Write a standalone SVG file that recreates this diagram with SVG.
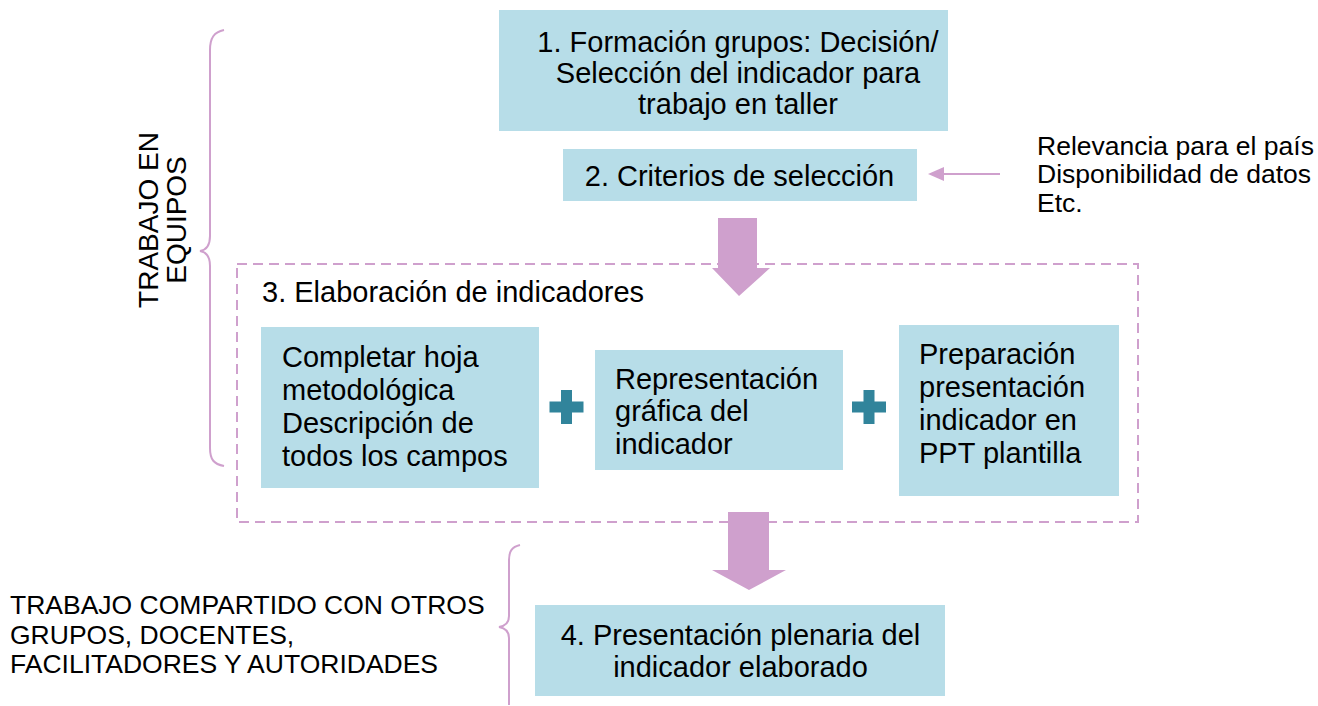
<svg xmlns="http://www.w3.org/2000/svg" width="1318" height="706" viewBox="0 0 1318 706">
<defs>
<style>
.box{fill:#b7dde8;stroke:none}
.t{font-family:"Liberation Sans",Arial,sans-serif;font-size:29px;fill:#000}
.s{font-family:"Liberation Sans",Arial,sans-serif;font-size:26.5px;fill:#000}
.r{font-family:"Liberation Sans",Arial,sans-serif;font-size:28px;fill:#000}
.pk{fill:#cfa0cd}
.brace{fill:none;stroke:#cfa0cd;stroke-width:2}
.plus{fill:#31849b}
</style>
</defs>
<rect width="1318" height="706" fill="#fff"/>
<g id="brace-equipos">
<path class="brace" d="M224,30 C214,32 210,38 210,50 L210,236 C210,246 206,250 200,251 C206,252 210,256 210,266 L210,448 C210,460 214,464 224,466"/>
<text class="r" transform="translate(158,220) rotate(-90)" text-anchor="middle">TRABAJO EN</text>
<text class="r" transform="translate(186,220) rotate(-90)" text-anchor="middle">EQUIPOS</text>
</g>
<g id="dashed-group">
<rect x="237" y="264" width="901" height="258" fill="none" stroke="#cfa0cd" stroke-width="2" stroke-dasharray="10,6"/>
<text class="t" x="262" y="302">3. Elaboración de indicadores</text>
</g>
<g id="connectors">
<line x1="1000" y1="174" x2="940" y2="174" stroke="#cfa0cd" stroke-width="2"/>
<polygon class="pk" points="928,174 944,167 944,181"/>
<polygon class="pk" points="718,218 757,218 757,268 770,268 739,296 712,268 718,268"/>
<polygon class="pk" points="728,512 769,512 769,570 786,570 749,590 712,570 728,570"/>
</g>
<g id="node1">
<rect class="box" x="499" y="10" width="449" height="121"/>
<text class="t" x="738" y="52" text-anchor="middle">1. Formación grupos: Decisión/</text>
<text class="t" x="738" y="83" text-anchor="middle">Selección del indicador para</text>
<text class="t" x="738" y="114" text-anchor="middle">trabajo en taller</text>
</g>
<g id="node2">
<rect class="box" x="563" y="149" width="354" height="52"/>
<text class="t" x="739.5" y="186" text-anchor="middle">2. Criterios de selección</text>
</g>
<g id="criteria">
<text class="s" x="1037" y="155">Relevancia para el país</text>
<text class="s" x="1037" y="183">Disponibilidad de datos</text>
<text class="s" x="1037" y="212">Etc.</text>
</g>
<g id="nodeA">
<rect class="box" x="261" y="327" width="278" height="161"/>
<text class="t" x="282" y="367">Completar hoja</text>
<text class="t" x="282" y="400">metodológica</text>
<text class="t" x="282" y="433">Descripción de</text>
<text class="t" x="282" y="466">todos los campos</text>
</g>
<g id="plus1">
<path class="plus" d="M561,390 h11 v11.5 h11.5 v11 h-11.5 v11.5 h-11 v-11.5 h-11.5 v-11 h11.5 z"/>
</g>
<g id="nodeB">
<rect class="box" x="595" y="350" width="248" height="120"/>
<text class="t" x="615" y="389">Representación</text>
<text class="t" x="615" y="421">gráfica del</text>
<text class="t" x="615" y="454">indicador</text>
</g>
<g id="plus2">
<path class="plus" d="M863.5,390 h11 v11.5 h11.5 v11 h-11.5 v11.5 h-11 v-11.5 h-11.5 v-11 h11.5 z"/>
</g>
<g id="nodeC">
<rect class="box" x="899" y="325" width="220" height="171"/>
<text class="t" x="919" y="364">Preparación</text>
<text class="t" x="919" y="397">presentación</text>
<text class="t" x="919" y="430">indicador en</text>
<text class="t" x="919" y="463">PPT plantilla</text>
</g>
<g id="brace-compartido">
<path class="brace" d="M520,545 C512,547 509,551 509,560 L509,616 C509,623 505,626 499,627 C505,628 509,631 509,638 L509,705"/>
<text class="s" x="10" y="614">TRABAJO COMPARTIDO CON OTROS</text>
<text class="s" x="10" y="644">GRUPOS, DOCENTES,</text>
<text class="s" x="10" y="673">FACILITADORES Y AUTORIDADES</text>
</g>
<g id="node4">
<rect class="box" x="535" y="605" width="410" height="91"/>
<text class="t" x="740.5" y="645" text-anchor="middle">4. Presentación plenaria del</text>
<text class="t" x="740.5" y="677" text-anchor="middle">indicador elaborado</text>
</g>
</svg>
